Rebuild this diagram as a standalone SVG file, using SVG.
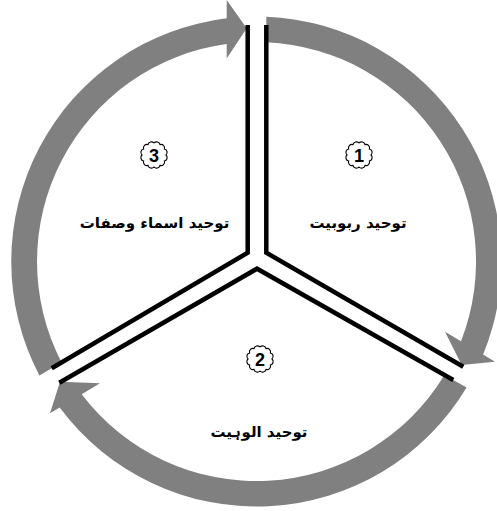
<svg xmlns="http://www.w3.org/2000/svg" width="497" height="511" viewBox="0 0 497 511">
<style>
.arrow{fill:#808080;stroke:none}
.div{fill:none;stroke:#000;stroke-width:4.5;stroke-linejoin:miter}
.seal{fill:#fff;stroke:#000;stroke-width:1.1}
.num{font-family:"Liberation Sans",Arial,sans-serif;font-size:18px;font-weight:bold;text-anchor:middle;fill:#000}
.lbl{font-family:"DejaVu Sans",sans-serif;font-size:15px;font-weight:bold;text-anchor:middle;fill:#000}
</style>
<defs>
<path id="sealShape" class="seal" d="M0,-12 A3.5,3.5 0 0 1 6,-10.39 A3.5,3.5 0 0 1 10.39,-6 A3.5,3.5 0 0 1 12,0 A3.5,3.5 0 0 1 10.39,6 A3.5,3.5 0 0 1 6,10.39 A3.5,3.5 0 0 1 0,12 A3.5,3.5 0 0 1 -6,10.39 A3.5,3.5 0 0 1 -10.39,6 A3.5,3.5 0 0 1 -12,0 A3.5,3.5 0 0 1 -10.39,-6 A3.5,3.5 0 0 1 -6,-10.39 A3.5,3.5 0 0 1 0,-12 Z"/>
</defs>
<rect width="497" height="511" fill="#fff"/>
<g id="connectors">
<path class="arrow" d="M266.3,16.7 A245,245 0 0 1 483.1,354.6 L495,361.7 L461.7,365 L445,331.7 L461.0,341.3 A219.5,219.5 0 0 0 266.3,42.2 Z"/>
<path class="arrow" d="M466.6,387.5 A245,245 0 0 1 59.7,407.5 L50,413.3 L60,381.7 L100,383.3 L81.7,394.3 A219.5,219.5 0 0 0 444.4,374.9 Z"/>
<path class="arrow" d="M39.4,375.5 A245,245 0 0 1 226.7,18.3 L226.7,0 L246.7,28.3 L226.7,58.5 L226.7,44.0 A219.5,219.5 0 0 0 61.6,362.4 Z"/>
</g>
<g id="dividers">
<polyline class="div" points="247.7,25 247.7,252.6 51.7,368.3"/>
<polyline class="div" points="266.3,25 266.3,252.6 463.3,366.7"/>
<polyline class="div" points="59.3,382.7 257,268.7 453.3,380"/>
</g>
<g id="node-1">
<use href="#sealShape" x="359" y="155"/>
<text class="num" x="359" y="161.5">1</text>
<text class="lbl" x="358" y="228" direction="rtl">توحید ربوبیت</text>
</g>
<g id="node-2">
<use href="#sealShape" x="260" y="359"/>
<text class="num" x="260" y="365.5">2</text>
<text class="lbl" x="259" y="437" direction="rtl">توحید الوہیت</text>
</g>
<g id="node-3">
<use href="#sealShape" x="154" y="155"/>
<text class="num" x="154" y="161.5">3</text>
<text class="lbl" x="154.5" y="228" direction="rtl">توحید اسماء وصفات</text>
</g>
</svg>
